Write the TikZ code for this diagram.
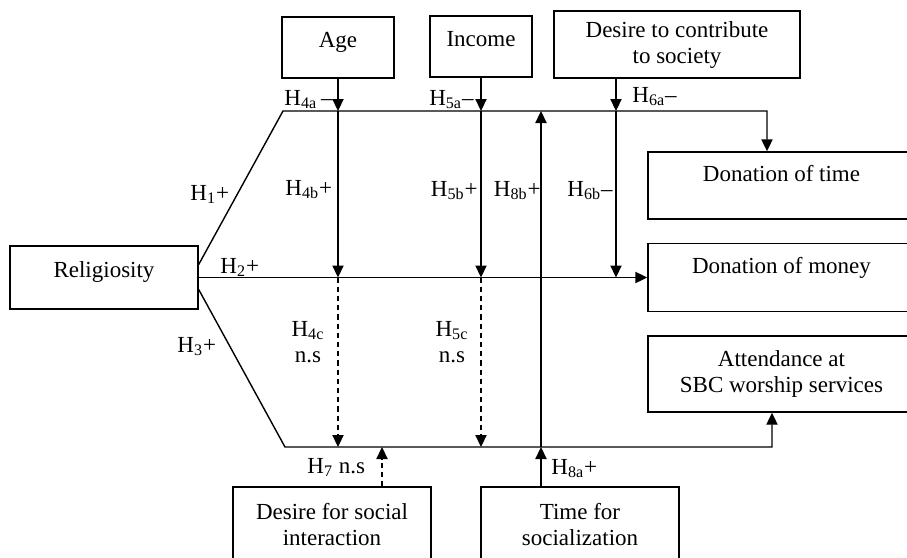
\documentclass[tikz,border=0pt]{standalone}
\usepackage{fontspec}
\setmainfont{Liberation Serif}
\usetikzlibrary{arrows.meta,calc}
\begin{document}
\begin{tikzpicture}[x=0.5pt,y=-0.5pt,
  font=\fontsize{11.5}{13}\selectfont,
  box/.style={draw, line width=0.7pt, inner sep=0pt, align=center},
  one/.style={text height=7.6pt, text depth=7.6pt},
  don/.style={text height=7.6pt, text depth=11.6pt},
  conn/.style={line width=0.7pt},
  arr/.style={conn, -{Triangle[length=6pt,width=5.6pt]}},
  darr/.style={arr, dash pattern=on 2.6pt off 2pt},
  lab/.style={inner sep=0pt}]
\useasboundingbox (0,0) rectangle (907,558);
\clip (0,0) rectangle (907,558);
% boxes
\node[box, one, minimum width=94pt, minimum height=31.5pt] (rel) at (104,277.5) {Religiosity};
\node[box, one, minimum width=56pt, minimum height=30.5pt] (age) at (338,47.5) {Age};
\node[box, one, minimum width=51pt, minimum height=30.5pt] (inc) at (481,46.5) {Income};
\node[box, minimum width=123pt, minimum height=33.5pt] (dcs) at (677,44.5) {Desire to contribute\\to society};
\node[box, don, minimum width=133.5pt, minimum height=33.5pt] (dtime) at (781.5,185.5) {Donation of time};
\node[box, don, minimum width=133.5pt, minimum height=34pt] (dmon) at (781.5,277.5) {Donation of money};
\node[box, minimum width=133.5pt, minimum height=38pt] (datt) at (781.5,374) {Attendance at\\SBC worship services};
\node[box, minimum width=99pt, minimum height=38pt] (dsoc) at (332,525) {Desire for social\\interaction};
\node[box, minimum width=99pt, minimum height=38pt] (dtsoc) at (580,525) {Time for\\socialization};
% helper coordinates
\coordinate (tl) at (283,111);
\coordinate (tr) at (767,111);
\coordinate (bl) at (285,447);
\coordinate (br) at (772,447);
\coordinate (x6) at (616,0);
\coordinate (x8) at (541,0);
\coordinate (x7) at (382,0);
% main paths
\draw[arr] ([yshift=6.5pt]rel.east) -- (tl) -- (tr) -- (tr |- dtime.north);
\draw[arr] ([yshift=-6pt]rel.east) -- (bl) -- (br) -- (br |- datt.south);
\draw[arr] (rel.east) -- (dmon.west);
% moderators
\draw[arr] (age.south) -- (age.south |- tl);
\draw[arr] (age.south |- tl) -- (age.south |- dmon.west);
\draw[darr] (age.south |- dmon.west) -- (age.south |- bl);
\draw[arr] (inc.south) -- (inc.south |- tl);
\draw[arr] (inc.south |- tl) -- (inc.south |- dmon.west);
\draw[darr] (inc.south |- dmon.west) -- (inc.south |- bl);
\draw[arr] (x6 |- dcs.south) -- (x6 |- tl);
\draw[arr] (x6 |- tl) -- (x6 |- dmon.west);
\draw[arr] (x8 |- dtsoc.north) -- (x8 |- bl);
\draw[arr] (x8 |- bl) -- (x8 |- tl);
\draw[darr] (x7 |- dsoc.north) -- (x7 |- bl);
% labels
\node[lab, anchor=base east] (l4a) at (333,105) {H\textsubscript{4a}\,–};
\node[lab, anchor=base east] (l5a) at (474,105) {H\textsubscript{5a}–};
\node[lab, anchor=base west] (l6a) at (632,102) {H\textsubscript{6a}–};
\node[lab, anchor=base west] (l1) at (190,200) {H\textsubscript{1}+};
\node[lab, anchor=base west] (l4b) at (285,195) {H\textsubscript{4b}+};
\node[lab, anchor=base west] (l2) at (220,273) {H\textsubscript{2}+};
\node[lab, anchor=base west] (l3) at (177,352) {H\textsubscript{3}+};
\node[lab, anchor=base] (l4c) at (308,336) {H\textsubscript{4c}};
\node[lab, anchor=base] (l4n) at (308,362) {n.s};
\node[lab, anchor=base] (l5c) at (452,336) {H\textsubscript{5c}};
\node[lab, anchor=base] (l5n) at (452,362) {n.s};
\node[lab, anchor=base east] (l5b) at (478,196) {H\textsubscript{5b}+};
\node[lab, anchor=base east] (l8b) at (541,196) {H\textsubscript{8b}+};
\node[lab, anchor=base east] (l6b) at (613,196) {H\textsubscript{6b}–};
\node[lab, anchor=base west] (l7) at (307,473) {H\textsubscript{7} n.s};
\node[lab, anchor=base west] (l8a) at (551,474) {H\textsubscript{8a}+};
\end{tikzpicture}
\end{document}
